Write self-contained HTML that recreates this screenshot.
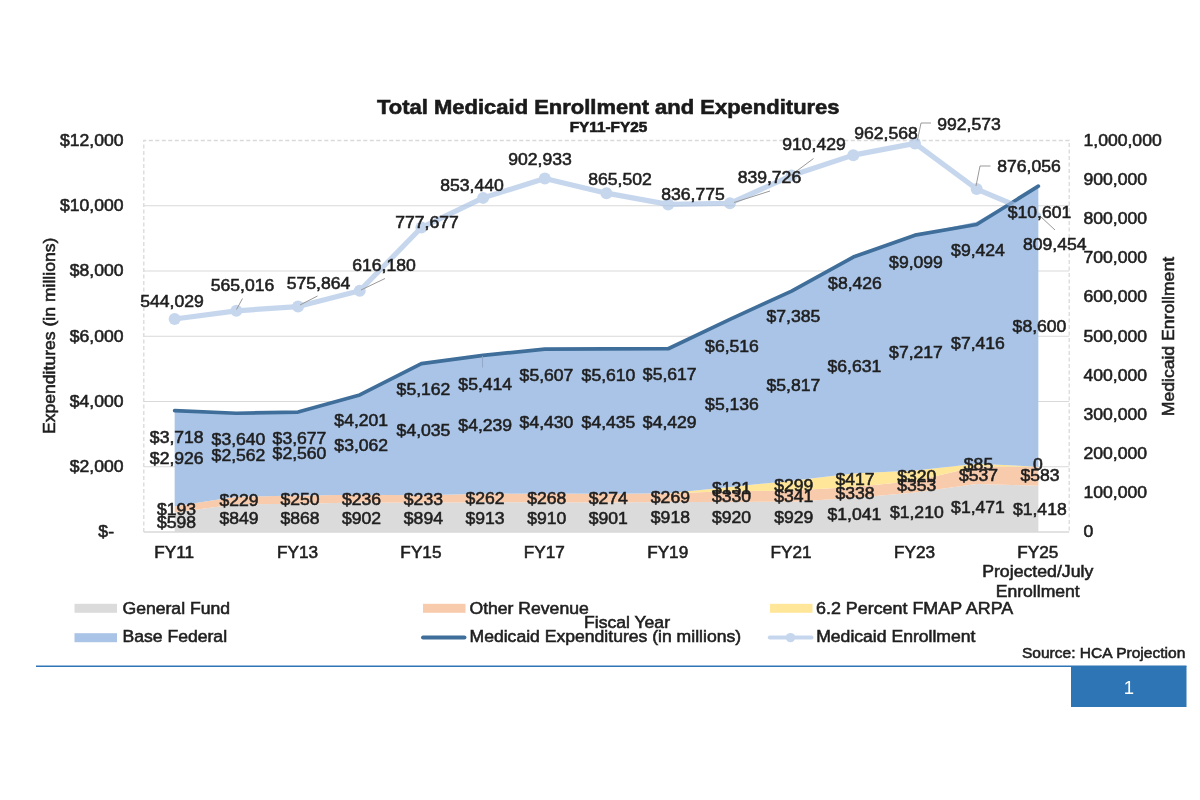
<!DOCTYPE html>
<html lang="en"><head><meta charset="utf-8"><title>Total Medicaid Enrollment and Expenditures</title>
<style>
html,body{margin:0;padding:0;background:#fff;}
body{width:1200px;height:800px;overflow:hidden;}
svg{display:block;filter:blur(0.45px);font-family:"Liberation Sans",Arial,Helvetica,sans-serif;}
</style></head><body>
<svg width="1200" height="800" viewBox="0 0 1200 800">
<rect width="1200" height="800" fill="#ffffff"/>
<line x1="143.8" y1="466.75" x2="1069.2" y2="466.75" stroke="#D9D9D9" stroke-width="1.2"/>
<line x1="143.8" y1="401.50" x2="1069.2" y2="401.50" stroke="#D9D9D9" stroke-width="1.2"/>
<line x1="143.8" y1="336.25" x2="1069.2" y2="336.25" stroke="#D9D9D9" stroke-width="1.2"/>
<line x1="143.8" y1="271.00" x2="1069.2" y2="271.00" stroke="#D9D9D9" stroke-width="1.2"/>
<line x1="143.8" y1="205.75" x2="1069.2" y2="205.75" stroke="#D9D9D9" stroke-width="1.2"/>
<path d="M143.8 532.0 L143.8 140.5 L1069.2 140.5 L1069.2 532.0" fill="none" stroke="#D9D9D9" stroke-width="1.3" stroke-dasharray="4 2.5"/>
<polygon points="174.65,512.49 236.34,504.30 298.03,503.68 359.73,502.57 421.42,502.83 483.11,502.21 544.81,502.31 606.50,502.60 668.19,502.05 729.89,501.99 791.58,501.69 853.27,498.04 914.97,492.52 976.66,484.01 1038.35,485.74 1038.35,532.00 976.66,532.00 914.97,532.00 853.27,532.00 791.58,532.00 729.89,532.00 668.19,532.00 606.50,532.00 544.81,532.00 483.11,532.00 421.42,532.00 359.73,532.00 298.03,532.00 236.34,532.00 174.65,532.00" fill="#DBDBDB"/>
<polygon points="174.65,506.19 236.34,496.83 298.03,495.53 359.73,494.87 421.42,495.23 483.11,493.67 544.81,493.57 606.50,493.67 668.19,493.27 729.89,491.22 791.58,490.57 853.27,487.01 914.97,481.01 976.66,466.49 1038.35,466.72 1038.35,485.74 976.66,484.01 914.97,492.52 853.27,498.04 791.58,501.69 729.89,501.99 668.19,502.05 606.50,502.60 544.81,502.31 483.11,502.21 421.42,502.83 359.73,502.57 298.03,503.68 236.34,504.30 174.65,512.49" fill="#F8CBAD"/>
<polygon points="174.65,506.19 236.34,496.83 298.03,495.53 359.73,494.87 421.42,495.23 483.11,493.67 544.81,493.57 606.50,493.67 668.19,493.27 729.89,486.94 791.58,480.81 853.27,473.41 914.97,470.57 976.66,463.72 1038.35,466.72 1038.35,466.72 976.66,466.49 914.97,481.01 853.27,487.01 791.58,490.57 729.89,491.22 668.19,493.27 606.50,493.67 544.81,493.57 483.11,493.67 421.42,495.23 359.73,494.87 298.03,495.53 236.34,496.83 174.65,506.19" fill="#FFE699"/>
<polygon points="174.65,410.73 236.34,413.25 298.03,412.01 359.73,394.98 421.42,363.59 483.11,355.37 544.81,349.04 606.50,348.97 668.19,348.78 729.89,319.38 791.58,291.03 853.27,257.07 914.97,235.11 976.66,221.77 1038.35,186.14 1038.35,466.72 976.66,463.72 914.97,470.57 853.27,473.41 791.58,480.81 729.89,486.94 668.19,493.27 606.50,493.67 544.81,493.57 483.11,493.67 421.42,495.23 359.73,494.87 298.03,495.53 236.34,496.83 174.65,506.19" fill="#A9C4E7"/>
<line x1="143.8" y1="532.0" x2="1069.2" y2="532.0" stroke="#D9D9D9" stroke-width="1.5"/>
<polyline points="174.65,410.70 236.34,413.25 298.03,412.04 359.73,394.94 421.42,363.59 483.11,355.37 544.81,349.07 606.50,348.97 668.19,348.75 729.89,319.42 791.58,291.06 853.27,257.10 914.97,235.15 976.66,224.54 1038.35,186.14" fill="none" stroke="#3F6E9A" stroke-width="3.7" stroke-linecap="round" stroke-linejoin="round"/>
<g opacity="0.66"><polyline points="174.65,319.01 236.34,310.80 298.03,306.55 359.73,290.77 421.42,227.54 483.11,197.88 544.81,178.50 606.50,193.16 668.19,204.40 729.89,203.25 791.58,175.57 853.27,155.15 914.97,143.41 976.66,189.02 1038.35,215.10" fill="none" stroke="#A8C2E5" stroke-width="5.2" stroke-linecap="round" stroke-linejoin="round"/>
<circle cx="174.65" cy="319.01" r="6" fill="#A8C2E5"/>
<circle cx="236.34" cy="310.80" r="6" fill="#A8C2E5"/>
<circle cx="298.03" cy="306.55" r="6" fill="#A8C2E5"/>
<circle cx="359.73" cy="290.77" r="6" fill="#A8C2E5"/>
<circle cx="421.42" cy="227.54" r="6" fill="#A8C2E5"/>
<circle cx="483.11" cy="197.88" r="6" fill="#A8C2E5"/>
<circle cx="544.81" cy="178.50" r="6" fill="#A8C2E5"/>
<circle cx="606.50" cy="193.16" r="6" fill="#A8C2E5"/>
<circle cx="668.19" cy="204.40" r="6" fill="#A8C2E5"/>
<circle cx="729.89" cy="203.25" r="6" fill="#A8C2E5"/>
<circle cx="791.58" cy="175.57" r="6" fill="#A8C2E5"/>
<circle cx="853.27" cy="155.15" r="6" fill="#A8C2E5"/>
<circle cx="914.97" cy="143.41" r="6" fill="#A8C2E5"/>
<circle cx="976.66" cy="189.02" r="6" fill="#A8C2E5"/>
</g>
<path d="M242.5 298.5 L236.5 309.5" fill="none" stroke="#999999" stroke-width="1"/>
<path d="M317.5 296 L300 305" fill="none" stroke="#999999" stroke-width="1"/>
<path d="M385 278.5 L361 290" fill="none" stroke="#999999" stroke-width="1"/>
<path d="M770 191 L734 202.5" fill="none" stroke="#999999" stroke-width="1"/>
<path d="M813.5 158.5 L790 176" fill="none" stroke="#999999" stroke-width="1"/>
<path d="M931 123 L921 123 L917.5 140" fill="none" stroke="#999999" stroke-width="1"/>
<path d="M990.5 166 L980 166 L976 186" fill="none" stroke="#999999" stroke-width="1"/>
<path d="M1040 216 L1055 230" fill="none" stroke="#999999" stroke-width="1"/>
<path d="M482.5 356 L482.5 367.5" fill="none" stroke="#8FA3BF" stroke-width="1" opacity="0.8"/>
<text transform="translate(114.00 537.40) scale(1.1 1)" text-anchor="end" font-size="16" fill="#1f1f1f" stroke="#1f1f1f" stroke-width="0.55">$-</text>
<text transform="translate(123.50 472.15) scale(1.1 1)" text-anchor="end" font-size="16" fill="#1f1f1f" stroke="#1f1f1f" stroke-width="0.55">$2,000</text>
<text transform="translate(123.50 406.90) scale(1.1 1)" text-anchor="end" font-size="16" fill="#1f1f1f" stroke="#1f1f1f" stroke-width="0.55">$4,000</text>
<text transform="translate(123.50 341.65) scale(1.1 1)" text-anchor="end" font-size="16" fill="#1f1f1f" stroke="#1f1f1f" stroke-width="0.55">$6,000</text>
<text transform="translate(123.50 276.40) scale(1.1 1)" text-anchor="end" font-size="16" fill="#1f1f1f" stroke="#1f1f1f" stroke-width="0.55">$8,000</text>
<text transform="translate(123.50 211.15) scale(1.1 1)" text-anchor="end" font-size="16" fill="#1f1f1f" stroke="#1f1f1f" stroke-width="0.55">$10,000</text>
<text transform="translate(123.50 145.90) scale(1.1 1)" text-anchor="end" font-size="16" fill="#1f1f1f" stroke="#1f1f1f" stroke-width="0.55">$12,000</text>
<text transform="translate(1083.50 537.25) scale(1.1 1)" text-anchor="start" font-size="16" fill="#1f1f1f" stroke="#1f1f1f" stroke-width="0.55">0</text>
<text transform="translate(1083.50 498.10) scale(1.1 1)" text-anchor="start" font-size="16" fill="#1f1f1f" stroke="#1f1f1f" stroke-width="0.55">100,000</text>
<text transform="translate(1083.50 458.95) scale(1.1 1)" text-anchor="start" font-size="16" fill="#1f1f1f" stroke="#1f1f1f" stroke-width="0.55">200,000</text>
<text transform="translate(1083.50 419.80) scale(1.1 1)" text-anchor="start" font-size="16" fill="#1f1f1f" stroke="#1f1f1f" stroke-width="0.55">300,000</text>
<text transform="translate(1083.50 380.65) scale(1.1 1)" text-anchor="start" font-size="16" fill="#1f1f1f" stroke="#1f1f1f" stroke-width="0.55">400,000</text>
<text transform="translate(1083.50 341.50) scale(1.1 1)" text-anchor="start" font-size="16" fill="#1f1f1f" stroke="#1f1f1f" stroke-width="0.55">500,000</text>
<text transform="translate(1083.50 302.35) scale(1.1 1)" text-anchor="start" font-size="16" fill="#1f1f1f" stroke="#1f1f1f" stroke-width="0.55">600,000</text>
<text transform="translate(1083.50 263.20) scale(1.1 1)" text-anchor="start" font-size="16" fill="#1f1f1f" stroke="#1f1f1f" stroke-width="0.55">700,000</text>
<text transform="translate(1083.50 224.05) scale(1.1 1)" text-anchor="start" font-size="16" fill="#1f1f1f" stroke="#1f1f1f" stroke-width="0.55">800,000</text>
<text transform="translate(1083.50 184.90) scale(1.1 1)" text-anchor="start" font-size="16" fill="#1f1f1f" stroke="#1f1f1f" stroke-width="0.55">900,000</text>
<text transform="translate(1083.50 145.75) scale(1.1 1)" text-anchor="start" font-size="16" fill="#1f1f1f" stroke="#1f1f1f" stroke-width="0.55">1,000,000</text>
<text transform="translate(174.15 557.50) scale(1.075 1)" text-anchor="middle" font-size="16" fill="#1f1f1f" stroke="#1f1f1f" stroke-width="0.55">FY11</text>
<text transform="translate(297.53 557.50) scale(1.075 1)" text-anchor="middle" font-size="16" fill="#1f1f1f" stroke="#1f1f1f" stroke-width="0.55">FY13</text>
<text transform="translate(420.92 557.50) scale(1.075 1)" text-anchor="middle" font-size="16" fill="#1f1f1f" stroke="#1f1f1f" stroke-width="0.55">FY15</text>
<text transform="translate(544.31 557.50) scale(1.075 1)" text-anchor="middle" font-size="16" fill="#1f1f1f" stroke="#1f1f1f" stroke-width="0.55">FY17</text>
<text transform="translate(667.69 557.50) scale(1.075 1)" text-anchor="middle" font-size="16" fill="#1f1f1f" stroke="#1f1f1f" stroke-width="0.55">FY19</text>
<text transform="translate(791.08 557.50) scale(1.075 1)" text-anchor="middle" font-size="16" fill="#1f1f1f" stroke="#1f1f1f" stroke-width="0.55">FY21</text>
<text transform="translate(914.47 557.50) scale(1.075 1)" text-anchor="middle" font-size="16" fill="#1f1f1f" stroke="#1f1f1f" stroke-width="0.55">FY23</text>
<text transform="translate(1037.85 557.50) scale(1.075 1)" text-anchor="middle" font-size="16" fill="#1f1f1f" stroke="#1f1f1f" stroke-width="0.55">FY25</text>
<text transform="translate(1037.70 577.30) scale(1.105 1)" text-anchor="middle" font-size="16" fill="#1f1f1f" stroke="#1f1f1f" stroke-width="0.55">Projected/July</text>
<text transform="translate(1037.70 597.30) scale(1.1 1)" text-anchor="middle" font-size="16" fill="#1f1f1f" stroke="#1f1f1f" stroke-width="0.55">Enrollment</text>
<text transform="translate(172.00 307.00) scale(1.1 1)" text-anchor="middle" font-size="16" fill="#1f1f1f" stroke="#1f1f1f" stroke-width="0.55">544,029</text>
<text transform="translate(242.50 290.75) scale(1.1 1)" text-anchor="middle" font-size="16" fill="#1f1f1f" stroke="#1f1f1f" stroke-width="0.55">565,016</text>
<text transform="translate(318.50 289.00) scale(1.1 1)" text-anchor="middle" font-size="16" fill="#1f1f1f" stroke="#1f1f1f" stroke-width="0.55">575,864</text>
<text transform="translate(384.00 270.75) scale(1.1 1)" text-anchor="middle" font-size="16" fill="#1f1f1f" stroke="#1f1f1f" stroke-width="0.55">616,180</text>
<text transform="translate(427.00 228.00) scale(1.1 1)" text-anchor="middle" font-size="16" fill="#1f1f1f" stroke="#1f1f1f" stroke-width="0.55">777,677</text>
<text transform="translate(472.00 191.25) scale(1.1 1)" text-anchor="middle" font-size="16" fill="#1f1f1f" stroke="#1f1f1f" stroke-width="0.55">853,440</text>
<text transform="translate(540.00 165.00) scale(1.1 1)" text-anchor="middle" font-size="16" fill="#1f1f1f" stroke="#1f1f1f" stroke-width="0.55">902,933</text>
<text transform="translate(620.00 185.00) scale(1.1 1)" text-anchor="middle" font-size="16" fill="#1f1f1f" stroke="#1f1f1f" stroke-width="0.55">865,502</text>
<text transform="translate(693.00 199.50) scale(1.1 1)" text-anchor="middle" font-size="16" fill="#1f1f1f" stroke="#1f1f1f" stroke-width="0.55">836,775</text>
<text transform="translate(769.40 183.00) scale(1.1 1)" text-anchor="middle" font-size="16" fill="#1f1f1f" stroke="#1f1f1f" stroke-width="0.55">839,726</text>
<text transform="translate(814.00 150.00) scale(1.1 1)" text-anchor="middle" font-size="16" fill="#1f1f1f" stroke="#1f1f1f" stroke-width="0.55">910,429</text>
<text transform="translate(886.00 138.75) scale(1.1 1)" text-anchor="middle" font-size="16" fill="#1f1f1f" stroke="#1f1f1f" stroke-width="0.55">962,568</text>
<text transform="translate(969.00 129.50) scale(1.1 1)" text-anchor="middle" font-size="16" fill="#1f1f1f" stroke="#1f1f1f" stroke-width="0.55">992,573</text>
<text transform="translate(1029.00 172.00) scale(1.1 1)" text-anchor="middle" font-size="16" fill="#1f1f1f" stroke="#1f1f1f" stroke-width="0.55">876,056</text>
<text transform="translate(1054.75 250.00) scale(1.1 1)" text-anchor="middle" font-size="16" fill="#1f1f1f" stroke="#1f1f1f" stroke-width="0.55">809,454</text>
<text transform="translate(176.75 442.50) scale(1.1 1)" text-anchor="middle" font-size="16" fill="#1f1f1f" stroke="#1f1f1f" stroke-width="0.55">$3,718</text>
<text transform="translate(238.50 444.50) scale(1.1 1)" text-anchor="middle" font-size="16" fill="#1f1f1f" stroke="#1f1f1f" stroke-width="0.55">$3,640</text>
<text transform="translate(299.50 443.75) scale(1.1 1)" text-anchor="middle" font-size="16" fill="#1f1f1f" stroke="#1f1f1f" stroke-width="0.55">$3,677</text>
<text transform="translate(361.25 426.25) scale(1.1 1)" text-anchor="middle" font-size="16" fill="#1f1f1f" stroke="#1f1f1f" stroke-width="0.55">$4,201</text>
<text transform="translate(423.50 394.50) scale(1.1 1)" text-anchor="middle" font-size="16" fill="#1f1f1f" stroke="#1f1f1f" stroke-width="0.55">$5,162</text>
<text transform="translate(485.25 390.00) scale(1.1 1)" text-anchor="middle" font-size="16" fill="#1f1f1f" stroke="#1f1f1f" stroke-width="0.55">$5,414</text>
<text transform="translate(546.50 381.25) scale(1.1 1)" text-anchor="middle" font-size="16" fill="#1f1f1f" stroke="#1f1f1f" stroke-width="0.55">$5,607</text>
<text transform="translate(608.50 381.25) scale(1.1 1)" text-anchor="middle" font-size="16" fill="#1f1f1f" stroke="#1f1f1f" stroke-width="0.55">$5,610</text>
<text transform="translate(669.75 380.00) scale(1.1 1)" text-anchor="middle" font-size="16" fill="#1f1f1f" stroke="#1f1f1f" stroke-width="0.55">$5,617</text>
<text transform="translate(732.00 352.00) scale(1.1 1)" text-anchor="middle" font-size="16" fill="#1f1f1f" stroke="#1f1f1f" stroke-width="0.55">$6,516</text>
<text transform="translate(793.40 322.00) scale(1.1 1)" text-anchor="middle" font-size="16" fill="#1f1f1f" stroke="#1f1f1f" stroke-width="0.55">$7,385</text>
<text transform="translate(855.00 288.75) scale(1.1 1)" text-anchor="middle" font-size="16" fill="#1f1f1f" stroke="#1f1f1f" stroke-width="0.55">$8,426</text>
<text transform="translate(916.00 267.50) scale(1.1 1)" text-anchor="middle" font-size="16" fill="#1f1f1f" stroke="#1f1f1f" stroke-width="0.55">$9,099</text>
<text transform="translate(978.00 256.25) scale(1.1 1)" text-anchor="middle" font-size="16" fill="#1f1f1f" stroke="#1f1f1f" stroke-width="0.55">$9,424</text>
<text transform="translate(1039.50 218.00) scale(1.1 1)" text-anchor="middle" font-size="16" fill="#1f1f1f" stroke="#1f1f1f" stroke-width="0.55">$10,601</text>
<text transform="translate(176.75 463.75) scale(1.1 1)" text-anchor="middle" font-size="16" fill="#1f1f1f" stroke="#1f1f1f" stroke-width="0.55">$2,926</text>
<text transform="translate(238.50 460.50) scale(1.1 1)" text-anchor="middle" font-size="16" fill="#1f1f1f" stroke="#1f1f1f" stroke-width="0.55">$2,562</text>
<text transform="translate(299.50 459.25) scale(1.1 1)" text-anchor="middle" font-size="16" fill="#1f1f1f" stroke="#1f1f1f" stroke-width="0.55">$2,560</text>
<text transform="translate(361.25 450.50) scale(1.1 1)" text-anchor="middle" font-size="16" fill="#1f1f1f" stroke="#1f1f1f" stroke-width="0.55">$3,062</text>
<text transform="translate(423.50 436.25) scale(1.1 1)" text-anchor="middle" font-size="16" fill="#1f1f1f" stroke="#1f1f1f" stroke-width="0.55">$4,035</text>
<text transform="translate(485.25 431.25) scale(1.1 1)" text-anchor="middle" font-size="16" fill="#1f1f1f" stroke="#1f1f1f" stroke-width="0.55">$4,239</text>
<text transform="translate(546.50 428.25) scale(1.1 1)" text-anchor="middle" font-size="16" fill="#1f1f1f" stroke="#1f1f1f" stroke-width="0.55">$4,430</text>
<text transform="translate(608.50 428.25) scale(1.1 1)" text-anchor="middle" font-size="16" fill="#1f1f1f" stroke="#1f1f1f" stroke-width="0.55">$4,435</text>
<text transform="translate(669.75 428.00) scale(1.1 1)" text-anchor="middle" font-size="16" fill="#1f1f1f" stroke="#1f1f1f" stroke-width="0.55">$4,429</text>
<text transform="translate(732.00 409.50) scale(1.1 1)" text-anchor="middle" font-size="16" fill="#1f1f1f" stroke="#1f1f1f" stroke-width="0.55">$5,136</text>
<text transform="translate(793.40 391.25) scale(1.1 1)" text-anchor="middle" font-size="16" fill="#1f1f1f" stroke="#1f1f1f" stroke-width="0.55">$5,817</text>
<text transform="translate(854.40 371.75) scale(1.1 1)" text-anchor="middle" font-size="16" fill="#1f1f1f" stroke="#1f1f1f" stroke-width="0.55">$6,631</text>
<text transform="translate(916.00 358.25) scale(1.1 1)" text-anchor="middle" font-size="16" fill="#1f1f1f" stroke="#1f1f1f" stroke-width="0.55">$7,217</text>
<text transform="translate(978.00 349.00) scale(1.1 1)" text-anchor="middle" font-size="16" fill="#1f1f1f" stroke="#1f1f1f" stroke-width="0.55">$7,416</text>
<text transform="translate(1039.50 332.00) scale(1.1 1)" text-anchor="middle" font-size="16" fill="#1f1f1f" stroke="#1f1f1f" stroke-width="0.55">$8,600</text>
<text transform="translate(176.60 514.50) scale(1.1 1)" text-anchor="middle" font-size="16" fill="#1f1f1f" stroke="#1f1f1f" stroke-width="0.55">$193</text>
<text transform="translate(239.00 506.30) scale(1.1 1)" text-anchor="middle" font-size="16" fill="#1f1f1f" stroke="#1f1f1f" stroke-width="0.55">$229</text>
<text transform="translate(300.00 505.40) scale(1.1 1)" text-anchor="middle" font-size="16" fill="#1f1f1f" stroke="#1f1f1f" stroke-width="0.55">$250</text>
<text transform="translate(361.60 504.50) scale(1.1 1)" text-anchor="middle" font-size="16" fill="#1f1f1f" stroke="#1f1f1f" stroke-width="0.55">$236</text>
<text transform="translate(423.40 505.00) scale(1.1 1)" text-anchor="middle" font-size="16" fill="#1f1f1f" stroke="#1f1f1f" stroke-width="0.55">$233</text>
<text transform="translate(485.00 503.75) scale(1.1 1)" text-anchor="middle" font-size="16" fill="#1f1f1f" stroke="#1f1f1f" stroke-width="0.55">$262</text>
<text transform="translate(546.75 503.75) scale(1.1 1)" text-anchor="middle" font-size="16" fill="#1f1f1f" stroke="#1f1f1f" stroke-width="0.55">$268</text>
<text transform="translate(608.25 503.75) scale(1.1 1)" text-anchor="middle" font-size="16" fill="#1f1f1f" stroke="#1f1f1f" stroke-width="0.55">$274</text>
<text transform="translate(670.40 503.00) scale(1.1 1)" text-anchor="middle" font-size="16" fill="#1f1f1f" stroke="#1f1f1f" stroke-width="0.55">$269</text>
<text transform="translate(731.60 502.00) scale(1.1 1)" text-anchor="middle" font-size="16" fill="#1f1f1f" stroke="#1f1f1f" stroke-width="0.55">$330</text>
<text transform="translate(793.75 501.75) scale(1.1 1)" text-anchor="middle" font-size="16" fill="#1f1f1f" stroke="#1f1f1f" stroke-width="0.55">$341</text>
<text transform="translate(855.00 498.75) scale(1.1 1)" text-anchor="middle" font-size="16" fill="#1f1f1f" stroke="#1f1f1f" stroke-width="0.55">$338</text>
<text transform="translate(916.70 491.30) scale(1.1 1)" text-anchor="middle" font-size="16" fill="#1f1f1f" stroke="#1f1f1f" stroke-width="0.55">$353</text>
<text transform="translate(978.50 480.80) scale(1.1 1)" text-anchor="middle" font-size="16" fill="#1f1f1f" stroke="#1f1f1f" stroke-width="0.55">$537</text>
<text transform="translate(1040.00 481.30) scale(1.1 1)" text-anchor="middle" font-size="16" fill="#1f1f1f" stroke="#1f1f1f" stroke-width="0.55">$583</text>
<text transform="translate(176.60 527.50) scale(1.1 1)" text-anchor="middle" font-size="16" fill="#1f1f1f" stroke="#1f1f1f" stroke-width="0.55">$598</text>
<text transform="translate(239.00 523.75) scale(1.1 1)" text-anchor="middle" font-size="16" fill="#1f1f1f" stroke="#1f1f1f" stroke-width="0.55">$849</text>
<text transform="translate(300.00 523.75) scale(1.1 1)" text-anchor="middle" font-size="16" fill="#1f1f1f" stroke="#1f1f1f" stroke-width="0.55">$868</text>
<text transform="translate(361.60 523.75) scale(1.1 1)" text-anchor="middle" font-size="16" fill="#1f1f1f" stroke="#1f1f1f" stroke-width="0.55">$902</text>
<text transform="translate(423.40 523.75) scale(1.1 1)" text-anchor="middle" font-size="16" fill="#1f1f1f" stroke="#1f1f1f" stroke-width="0.55">$894</text>
<text transform="translate(485.00 523.75) scale(1.1 1)" text-anchor="middle" font-size="16" fill="#1f1f1f" stroke="#1f1f1f" stroke-width="0.55">$913</text>
<text transform="translate(546.75 523.50) scale(1.1 1)" text-anchor="middle" font-size="16" fill="#1f1f1f" stroke="#1f1f1f" stroke-width="0.55">$910</text>
<text transform="translate(608.25 523.50) scale(1.1 1)" text-anchor="middle" font-size="16" fill="#1f1f1f" stroke="#1f1f1f" stroke-width="0.55">$901</text>
<text transform="translate(670.40 523.00) scale(1.1 1)" text-anchor="middle" font-size="16" fill="#1f1f1f" stroke="#1f1f1f" stroke-width="0.55">$918</text>
<text transform="translate(731.60 523.00) scale(1.1 1)" text-anchor="middle" font-size="16" fill="#1f1f1f" stroke="#1f1f1f" stroke-width="0.55">$920</text>
<text transform="translate(793.75 523.00) scale(1.1 1)" text-anchor="middle" font-size="16" fill="#1f1f1f" stroke="#1f1f1f" stroke-width="0.55">$929</text>
<text transform="translate(854.40 520.00) scale(1.1 1)" text-anchor="middle" font-size="16" fill="#1f1f1f" stroke="#1f1f1f" stroke-width="0.55">$1,041</text>
<text transform="translate(916.80 518.00) scale(1.1 1)" text-anchor="middle" font-size="16" fill="#1f1f1f" stroke="#1f1f1f" stroke-width="0.55">$1,210</text>
<text transform="translate(978.00 513.30) scale(1.1 1)" text-anchor="middle" font-size="16" fill="#1f1f1f" stroke="#1f1f1f" stroke-width="0.55">$1,471</text>
<text transform="translate(1039.80 514.70) scale(1.1 1)" text-anchor="middle" font-size="16" fill="#1f1f1f" stroke="#1f1f1f" stroke-width="0.55">$1,418</text>
<text transform="translate(731.60 493.75) scale(1.1 1)" text-anchor="middle" font-size="16" fill="#1f1f1f" stroke="#1f1f1f" stroke-width="0.55">$131</text>
<text transform="translate(793.75 491.25) scale(1.1 1)" text-anchor="middle" font-size="16" fill="#1f1f1f" stroke="#1f1f1f" stroke-width="0.55">$299</text>
<text transform="translate(855.00 485.00) scale(1.1 1)" text-anchor="middle" font-size="16" fill="#1f1f1f" stroke="#1f1f1f" stroke-width="0.55">$417</text>
<text transform="translate(916.70 481.70) scale(1.1 1)" text-anchor="middle" font-size="16" fill="#1f1f1f" stroke="#1f1f1f" stroke-width="0.55">$320</text>
<text transform="translate(978.50 470.00) scale(1.1 1)" text-anchor="middle" font-size="16" fill="#1f1f1f" stroke="#1f1f1f" stroke-width="0.55">$85</text>
<text transform="translate(1038.00 470.00) scale(1.1 1)" text-anchor="middle" font-size="16" fill="#1f1f1f" stroke="#1f1f1f" stroke-width="0.55">0</text>
<text transform="translate(608.30 114.20) scale(1.078 1)" text-anchor="middle" font-size="20.4" font-weight="bold" fill="#1a1a1a" stroke="#1a1a1a" stroke-width="0.6">Total Medicaid Enrollment and Expenditures</text>
<text transform="translate(608.50 132.20) scale(1.095 1)" text-anchor="middle" font-size="14" font-weight="bold" fill="#1a1a1a" stroke="#1a1a1a" stroke-width="0.6">FY11-FY25</text>
<text transform="translate(55.00 434.00) rotate(-90) scale(1.1 1)" text-anchor="start" font-size="16" fill="#1f1f1f" stroke="#1f1f1f" stroke-width="0.55">Expenditures (in millions)</text>
<text transform="translate(1174.20 416.20) rotate(-90) scale(1.1 1)" text-anchor="start" font-size="16" fill="#1f1f1f" stroke="#1f1f1f" stroke-width="0.55">Medicaid Enrollment</text>
<text transform="translate(627.00 627.50) scale(1.1 1)" text-anchor="middle" font-size="16" fill="#1f1f1f" stroke="#1f1f1f" stroke-width="0.55">Fiscal Year</text>
<rect x="74.5" y="603.8" width="42.5" height="9" fill="#DBDBDB"/>
<text transform="translate(122.50 613.75) scale(1.1 1)" text-anchor="start" font-size="16" fill="#1f1f1f" stroke="#1f1f1f" stroke-width="0.55">General Fund</text>
<rect x="423" y="603.8" width="42.5" height="9" fill="#F8CBAD"/>
<text transform="translate(469.50 613.75) scale(1.1 1)" text-anchor="start" font-size="16" fill="#1f1f1f" stroke="#1f1f1f" stroke-width="0.55">Other Revenue</text>
<rect x="770" y="603.8" width="42.5" height="9" fill="#FFE699"/>
<text transform="translate(816.00 613.90) scale(1.118 1)" text-anchor="start" font-size="16" fill="#1f1f1f" stroke="#1f1f1f" stroke-width="0.55">6.2 Percent FMAP ARPA</text>
<rect x="74.5" y="633.2" width="42.5" height="9" fill="#A9C4E7"/>
<text transform="translate(122.50 642.00) scale(1.1 1)" text-anchor="start" font-size="16" fill="#1f1f1f" stroke="#1f1f1f" stroke-width="0.55">Base Federal</text>
<line x1="423" y1="637.5" x2="464.5" y2="637.5" stroke="#3F6E9A" stroke-width="3.9" stroke-linecap="round"/>
<text transform="translate(469.50 642.00) scale(1.1 1)" text-anchor="start" font-size="16" fill="#1f1f1f" stroke="#1f1f1f" stroke-width="0.55">Medicaid Expenditures (in millions)</text>
<g opacity="0.66"><line x1="769.8" y1="637.6" x2="811.5" y2="637.6" stroke="#A8C2E5" stroke-width="4" stroke-linecap="round"/><circle cx="790.5" cy="637.6" r="4.7" fill="#A8C2E5"/></g>
<text transform="translate(816.20 641.80) scale(1.1 1)" text-anchor="start" font-size="16" fill="#1f1f1f" stroke="#1f1f1f" stroke-width="0.55">Medicaid Enrollment</text>
<text transform="translate(1185.30 657.50) scale(1.088 1)" text-anchor="end" font-size="14.3" fill="#1f1f1f" stroke="#1f1f1f" stroke-width="0.55">Source: HCA Projection</text>
<line x1="36" y1="666.3" x2="1186.5" y2="666.3" stroke="#2E75B6" stroke-width="1.6"/>
<rect x="1071" y="666.3" width="115.5" height="40.7" fill="#2E75B6"/>
<text transform="translate(1128.80 693.70) scale(1.0 1)" text-anchor="middle" font-size="18.5" fill="#ffffff" stroke="#ffffff" stroke-width="0">1</text>
</svg>
</body></html>
